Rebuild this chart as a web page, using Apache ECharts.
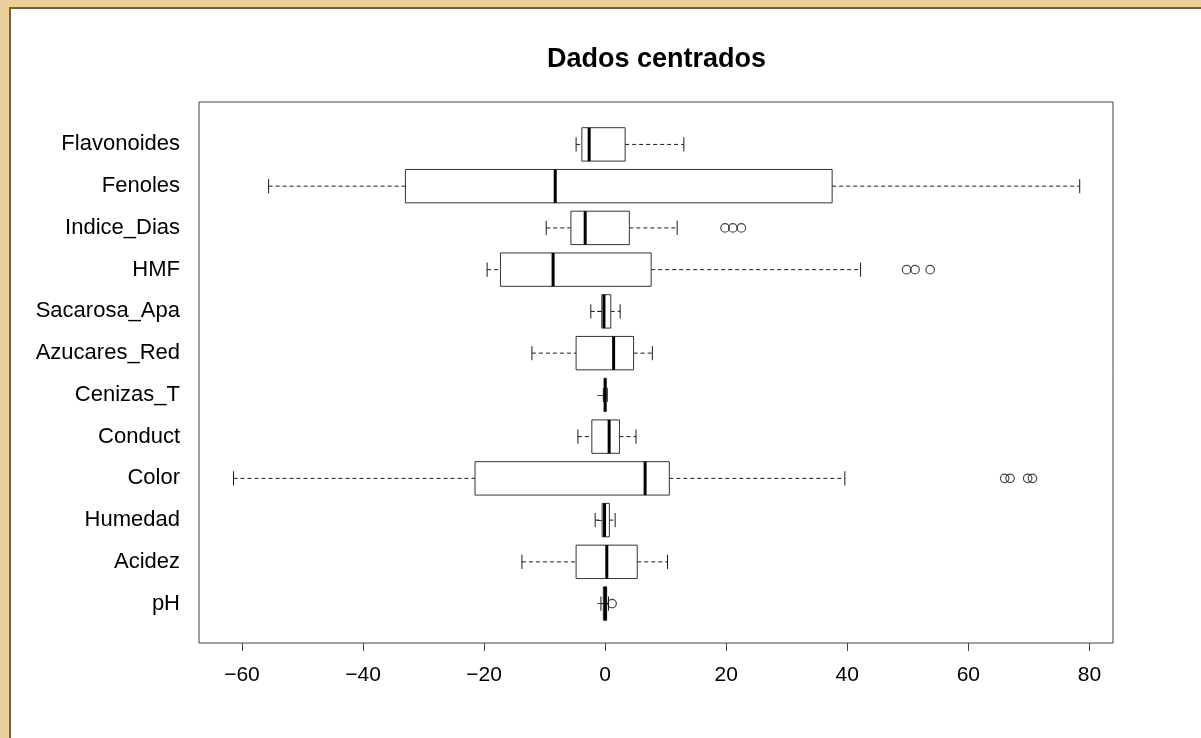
<!DOCTYPE html>
<html>
<head>
<meta charset="utf-8">
<script src="https://cdn.jsdelivr.net/npm/echarts@6/dist/echarts.min.js"></script>
<style>
  html, body { margin:0; padding:0; width:1201px; height:738px; overflow:hidden; background:#e8d09c; }
  #panel { position:absolute; left:9px; top:7px; right:0; bottom:0; background:#ffffff;
           border-left:2px solid #8f5a12; border-top:2px solid #8f5a12; }
  #chart { position:absolute; left:0; top:0; width:1201px; height:738px; }
</style>
</head>
<body>
<div id="panel"></div>
<div id="chart"></div>
<script>
// ---- data (bottom to top, as in R's horizontal boxplot) ----
const categories   = ['pH','Acidez','Humedad','Color','Conduct','Cenizas_T','Azucares_Red','Sacarosa_Apa','HMF','Indice_Dias','Fenoles','Flavonoides'];
const whiskerLow   = [-0.7, -13.75, -1.65, -61.4, -4.5, -0.3, -12.1, -2.37, -19.5, -9.74, -55.6, -4.8];
const quartile1    = [-0.3,  -4.8,  -0.5,  -21.5, -2.2, -0.12, -4.8, -0.55, -17.3, -5.66, -33.0, -3.85];
const medians      = [ 0.0,   0.27, -0.1,    6.6,  0.66, 0.0,   1.4, -0.2,   -8.6, -3.3,   -8.25, -2.64];
const quartile3    = [ 0.25,  5.3,   0.7,   10.6,  2.36, 0.1,   4.7,  0.93,   7.6,  4.0,   37.5,  3.3];
const whiskerHigh  = [ 0.55, 10.3,   1.65,  39.6,  5.1,  0.35,  7.8,  2.48,  42.2, 11.9,   78.4, 13.0];
const outlierCategory = ['pH','Color','Color','Color','Color','HMF','HMF','HMF','Indice_Dias','Indice_Dias','Indice_Dias'];
const outlierValue    = [1.15, 66.0, 66.9, 69.8, 70.6, 49.8, 51.2, 53.7, 19.8, 21.1, 22.5];
const xTicks = [-60, -40, -20, 0, 20, 40, 60, 80];
const titleText = 'Dados centrados';

// ---- build series data ----
const boxData = categories.map((c, i) => [i + 1, whiskerLow[i], quartile1[i], medians[i], quartile3[i], whiskerHigh[i]]);
const outData = outlierCategory.map((c, i) => [outlierValue[i], categories.indexOf(c) + 1]);
const yTicks = categories.map((c, i) => i + 1);

const FONT = '"Liberation Sans", Arial, Helvetica, sans-serif';
const INK = '#1a1a1a';

const chart = echarts.init(document.getElementById('chart'), null, { renderer: 'canvas' });

chart.setOption({
  backgroundColor: 'transparent',
  animation: false,
  graphic: [{
    type: 'text',
    x: 656.5,
    y: 60,
    style: { text: titleText, font: 'bold 27px ' + FONT, fill: '#000', align: 'center', verticalAlign: 'middle' }
  }],
  grid: {
    left: 199, top: 102, width: 914, height: 541,
    show: true, borderColor: '#444', borderWidth: 1, backgroundColor: 'transparent'
  },
  xAxis: {
    type: 'value', min: -67.1, max: 83.9,
    axisLine: { show: false },
    splitLine: { show: false },
    axisTick: { show: true, length: 8, lineStyle: { color: '#444', width: 1 }, customValues: xTicks },
    axisLabel: {
      customValues: xTicks, margin: 22, color: '#000', fontSize: 21, fontFamily: FONT,
      formatter: v => String(v).replace('-', '\u2212')
    }
  },
  yAxis: {
    type: 'value', min: 0.056, max: 13.016,
    axisLine: { show: false },
    splitLine: { show: false },
    axisTick: { show: true, length: 8, lineStyle: { color: '#444', width: 1 }, customValues: yTicks },
    axisLabel: {
      customValues: yTicks, margin: 19, color: '#000', fontSize: 22, fontFamily: FONT,
      formatter: v => categories[Math.round(v) - 1] || ''
    }
  },
  series: [{
    type: 'custom',
    data: boxData,
    encode: { x: [1, 2, 3, 4, 5], y: 0 },
    renderItem: function (params, api) {
      const y = api.value(0);
      const lo = api.coord([api.value(1), y]);
      const q1 = api.coord([api.value(2), y]);
      const md = api.coord([api.value(3), y]);
      const q3 = api.coord([api.value(4), y]);
      const hi = api.coord([api.value(5), y]);
      const bh = api.size([0, 0.8])[1];
      const sh = api.size([0, 0.34])[1];
      const cy = lo[1];
      const dash = { stroke: INK, lineWidth: 1, lineDash: [4, 3] };
      const solid = { stroke: INK, lineWidth: 1 };
      return {
        type: 'group',
        children: [
          { type: 'line', shape: { x1: lo[0], y1: cy, x2: q1[0], y2: cy }, style: dash },
          { type: 'line', shape: { x1: q3[0], y1: cy, x2: hi[0], y2: cy }, style: dash },
          { type: 'line', shape: { x1: lo[0], y1: cy - sh / 2, x2: lo[0], y2: cy + sh / 2 }, style: solid },
          { type: 'line', shape: { x1: hi[0], y1: cy - sh / 2, x2: hi[0], y2: cy + sh / 2 }, style: solid },
          { type: 'rect', shape: { x: q1[0], y: cy - bh / 2, width: q3[0] - q1[0], height: bh },
            style: { fill: '#fff', stroke: '#333', lineWidth: 1 } },
          { type: 'line', shape: { x1: md[0], y1: cy - bh / 2, x2: md[0], y2: cy + bh / 2 },
            style: { stroke: '#000', lineWidth: 3 } }
        ]
      };
    }
  }, {
    type: 'scatter',
    data: outData,
    symbol: 'circle',
    symbolSize: 8.5,
    z: 5,
    itemStyle: { color: 'rgba(0,0,0,0)', borderColor: INK, borderWidth: 1.2 }
  }]
});
</script>
</body>
</html>
